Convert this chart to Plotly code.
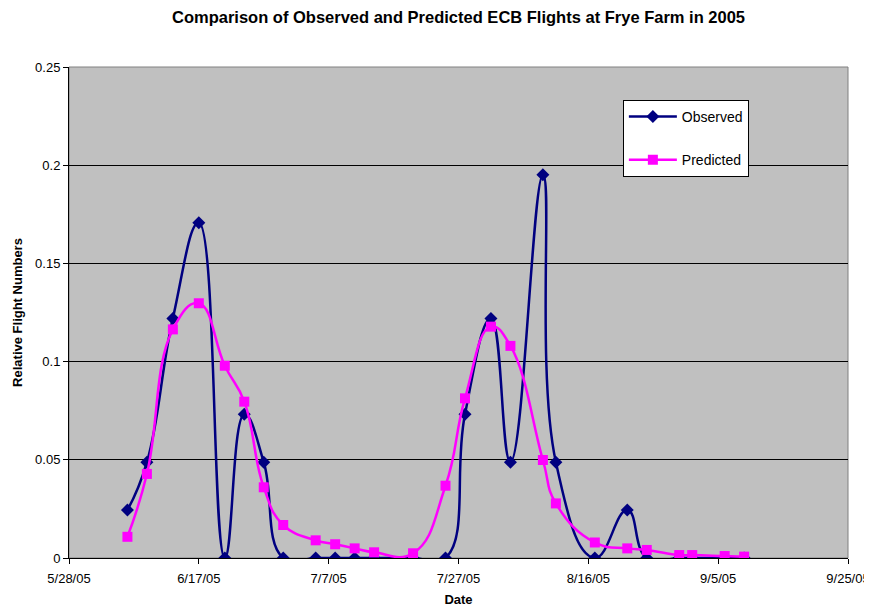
import plotly.graph_objects as go

dates = ["2005-06-06", "2005-06-09", "2005-06-13", "2005-06-17", "2005-06-21", "2005-06-24",
         "2005-06-27", "2005-06-30", "2005-07-05", "2005-07-08", "2005-07-11", "2005-07-14",
         "2005-07-20", "2005-07-25", "2005-07-28", "2005-08-01", "2005-08-04", "2005-08-09",
         "2005-08-11", "2005-08-17", "2005-08-22", "2005-08-25", "2005-08-30", "2005-09-01",
         "2005-09-06", "2005-09-09"]
observed = [0.0244, 0.0488, 0.122, 0.1707, 0.0, 0.0732, 0.0488, 0.0, 0.0, 0.0, 0.0, 0.0,
            0.0, 0.0, 0.0732, 0.122, 0.0488, 0.1951, 0.0488, 0.0, 0.0244, 0.0, 0.0, 0.0,
            0.0, 0.0]
predicted = [0.0108, 0.0428, 0.1164, 0.1297, 0.0979, 0.0796, 0.036, 0.0168, 0.009, 0.007,
             0.0049, 0.0029, 0.0024, 0.0368, 0.0813, 0.1178, 0.108, 0.0499, 0.0278, 0.0079,
             0.0049, 0.0041, 0.0015, 0.0015, 0.001, 0.0007]
tick_dates = ["2005-05-28", "2005-06-17", "2005-07-07", "2005-07-27", "2005-08-16",
              "2005-09-05", "2005-09-25"]
tick_labels = ["5/28/05", "6/17/05", "7/7/05", "7/27/05", "8/16/05", "9/5/05", "9/25/05"]

fig = go.Figure()
fig.add_trace(go.Scatter(
    x=dates, y=observed, name="Observed", mode="lines+markers",
    line=dict(color="#000080", width=2.5, shape="spline", smoothing=1.3),
    marker=dict(symbol="diamond", size=10, color="#000080"),
    legendgroup="a"))
fig.add_trace(go.Scatter(
    x=dates, y=predicted, name="Predicted", mode="lines+markers",
    line=dict(color="#FF00FF", width=2.5, shape="spline", smoothing=1.3),
    marker=dict(symbol="square", size=10, color="#FF00FF"),
    legendgroup="b"))

font_family = "Liberation Sans, Arial, sans-serif"
W, H = 864, 601  # page body has an 8px margin
fig.update_layout(
    width=W, height=H,
    margin=dict(l=61, r=24, t=59, b=51),
    paper_bgcolor="white", plot_bgcolor="#C0C0C0",
    font=dict(family=font_family, size=13, color="black"),
    title=dict(text="<b>Comparison of Observed and Predicted ECB Flights at Frye Farm in 2005</b>",
               x=0.5, xref="paper", xanchor="center", y=1 - 9 / H, yanchor="middle",
               yref="container", font=dict(size=16.5, family=font_family)),
    showlegend=True,
    legend=dict(x=0.711, y=0.933, xanchor="left", yanchor="top",
                bgcolor="white", bordercolor="black", borderwidth=1,
                font=dict(size=14, family=font_family), tracegroupgap=22,
                itemwidth=48, entrywidth=125, entrywidthmode="pixels"),
    xaxis=dict(type="date", range=["2005-05-28", "2005-09-25"],
               tickvals=tick_dates, ticktext=tick_labels, automargin=False,
               showgrid=False, showline=True, linecolor="black", linewidth=1,
               ticks="outside", ticklen=5, tickcolor="black", mirror=False,
               ticklabelstandoff=3,
               title=dict(text="<b>Date</b>", standoff=10, font=dict(size=13)),
               zeroline=False),
    yaxis=dict(range=[0, 0.25], dtick=0.05, tick0=0, automargin=False,
               showgrid=True, gridcolor="black", gridwidth=1,
               showline=True, linecolor="black", linewidth=1,
               ticks="outside", ticklen=5, tickcolor="black",
               title=dict(text="<b>Relative Flight Numbers</b>", standoff=9, font=dict(size=13)),
               zeroline=False),
)
fig.add_shape(type="rect", xref="paper", yref="paper", x0=0, x1=1, y0=0, y1=1,
              line=dict(color="#808080", width=1), layer="below")

fig.write_html("out.html")
